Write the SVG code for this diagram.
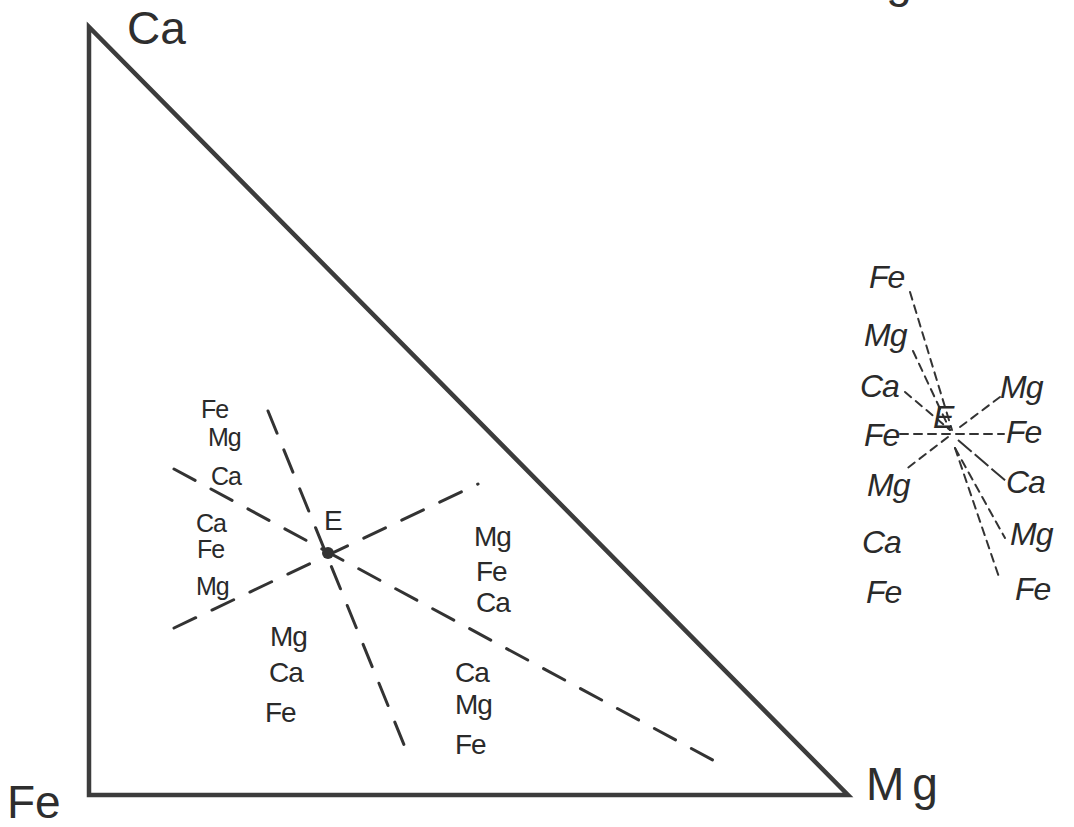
<svg xmlns="http://www.w3.org/2000/svg" width="1074" height="827" viewBox="0 0 1074 827">
<style>
.edge{stroke:#3c3c3c;stroke-width:4.5;fill:none;stroke-linecap:round;stroke-linejoin:miter}
.dash{stroke:#333;stroke-width:3;fill:none;stroke-dasharray:24 18;stroke-linecap:round}
.sdash{stroke:#333;stroke-width:2;fill:none;stroke-dasharray:8 6;stroke-linecap:round}
.big{font-family:"Liberation Sans","DejaVu Sans",sans-serif;font-size:46px;fill:#2e2e2e}
.lbl{font-family:"Liberation Sans","DejaVu Sans",sans-serif;font-size:28px;fill:#2a2a2a;letter-spacing:-1px}
.sm{font-family:"Liberation Sans","DejaVu Sans",sans-serif;font-size:25px;fill:#2a2a2a;letter-spacing:-1px}
.rl{font-family:"Liberation Sans","DejaVu Sans",sans-serif;font-size:32px;fill:#2a2a2a;font-style:italic;letter-spacing:-1px}
</style>
<rect width="1074" height="827" fill="#ffffff"/>
<g id="connectors">
  <polygon class="edge" points="89,27 89,795 848,795"/>
  <line class="dash" x1="268" y1="411" x2="409" y2="757"/>
  <line class="dash" x1="174" y1="469" x2="722" y2="765"/>
  <line class="dash" x1="174" y1="628" x2="478" y2="484"/>
  <line class="sdash" x1="900" y1="434" x2="1004" y2="434"/>
  <line class="sdash" x1="910" y1="292" x2="952" y2="430"/>
  <line class="sdash" x1="913" y1="351" x2="950" y2="430"/>
  <line class="sdash" x1="905" y1="392" x2="950" y2="430"/>
  <line class="sdash" x1="1000" y1="397" x2="956" y2="430"/>
  <line class="sdash" x1="948" y1="437" x2="905" y2="470"/>
  <line stroke="#333" stroke-width="2" stroke-dasharray="18 4" fill="none" x1="958" y1="440" x2="1007" y2="482"/>
  <line class="sdash" x1="955" y1="448" x2="1005" y2="538"/>
  <line class="sdash" x1="955" y1="448" x2="1000" y2="580"/>
</g>
<g id="vertex-ca"><text class="big" x="127" y="44">Ca</text></g>
<g id="vertex-fe"><text class="big" x="7" y="818" font-size="48">Fe</text></g>
<g id="vertex-mg"><text class="big" x="866" y="800" font-size="52" letter-spacing="8">Mg</text></g>
<g id="top-fragment"><text class="big" x="848" y="-3" font-size="70">Mg</text></g>
<g id="point-e">
  <circle cx="328" cy="553" r="6" fill="#333"/>
  <text class="lbl" x="324" y="530">E</text>
</g>
<g id="labels-upper-left">
  <text class="sm" x="201" y="418">Fe</text>
  <text class="sm" x="208" y="446">Mg</text>
  <text class="sm" x="211" y="485">Ca</text>
</g>
<g id="labels-left">
  <text class="sm" x="196" y="532">Ca</text>
  <text class="sm" x="197" y="558">Fe</text>
  <text class="sm" x="196" y="595">Mg</text>
</g>
<g id="labels-right">
  <text class="lbl" x="474" y="546">Mg</text>
  <text class="lbl" x="476" y="581">Fe</text>
  <text class="lbl" x="476" y="612" font-size="26">Ca</text>
</g>
<g id="labels-lower-left">
  <text class="lbl" x="270" y="646">Mg</text>
  <text class="lbl" x="269" y="682">Ca</text>
  <text class="lbl" x="265" y="722">Fe</text>
</g>
<g id="labels-lower-right">
  <text class="lbl" x="455" y="682">Ca</text>
  <text class="lbl" x="455" y="714">Mg</text>
  <text class="lbl" x="455" y="754">Fe</text>
</g>
<g id="cluster-e">
  <text class="rl" x="933" y="428">E</text>
</g>
<g id="cluster-left-labels">
  <text class="rl" x="869" y="288">Fe</text>
  <text class="rl" x="864" y="346">Mg</text>
  <text class="rl" x="860" y="397">Ca</text>
  <text class="rl" x="864" y="446">Fe</text>
  <text class="rl" x="867" y="496">Mg</text>
  <text class="rl" x="862" y="553">Ca</text>
  <text class="rl" x="866" y="603">Fe</text>
</g>
<g id="cluster-right-labels">
  <text class="rl" x="1000" y="398" font-size="36">Mg</text>
  <text class="rl" x="1006" y="443">Fe</text>
  <text class="rl" x="1006" y="493">Ca</text>
  <text class="rl" x="1010" y="545" font-size="36">Mg</text>
  <text class="rl" x="1015" y="600">Fe</text>
</g>
</svg>
